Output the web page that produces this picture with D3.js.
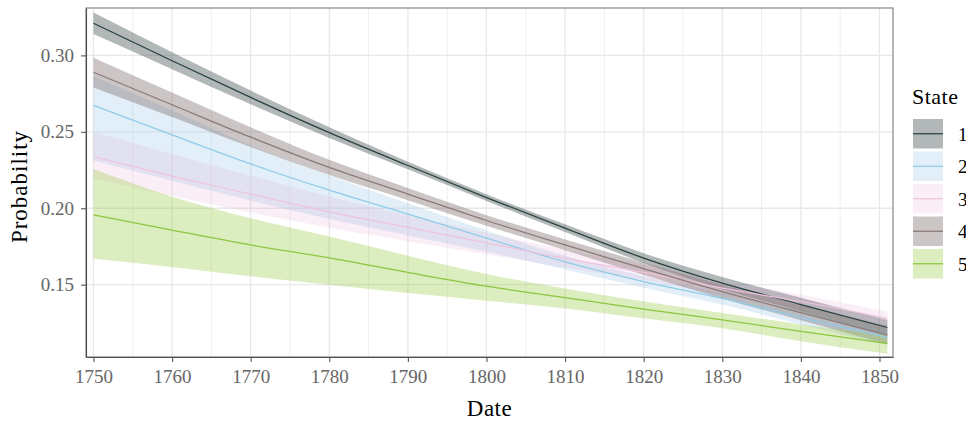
<!DOCTYPE html>
<html>
<head>
<meta charset="utf-8">
<script src="https://cdn.jsdelivr.net/npm/d3@7"></script>
<style>
  html, body { margin: 0; padding: 0; background: #fff; }
  svg text { font-family: "Liberation Serif", "DejaVu Serif", serif; }
</style>
</head>
<body>
<div id="chart"></div>
<script>
// Probabilidad por estado, 1750-1851
const years = [1750, 1760, 1770, 1780, 1790, 1800, 1810, 1820, 1830, 1840, 1851];
const stateNames = ['1', '2', '3', '4', '5'];
const stateLine = ['#27423f', '#90cbe9', '#efc2dd', '#8a7a79', '#8cc63f'];
const stateFill = ['#3b4d4b', '#9ecae9', '#e6a8d6', '#7f6f6d', '#9bcb4a'];
const fillAlpha = [0.4, 0.3, 0.2, 0.4, 0.35];

const state1Mean = [0.321, 0.2965, 0.2725, 0.2495, 0.228, 0.207, 0.187, 0.1674, 0.151, 0.137, 0.122];
const state1Low  = [0.314, 0.291, 0.268, 0.246, 0.2255, 0.2048, 0.1845, 0.1642, 0.147, 0.1325, 0.117];
const state1High = [0.328, 0.302, 0.277, 0.253, 0.2305, 0.2092, 0.1895, 0.1706, 0.155, 0.1415, 0.127];

const state2Mean = [0.2673, 0.248, 0.229, 0.2119, 0.1962, 0.1805, 0.1649, 0.152, 0.141, 0.1285, 0.1155];
const state2Low  = [0.2313, 0.218, 0.205, 0.1929, 0.1822, 0.1715, 0.1599, 0.148, 0.137, 0.124, 0.1105];
const state2High = [0.2863, 0.264, 0.241, 0.2214, 0.2032, 0.1855, 0.1689, 0.1555, 0.1445, 0.1325, 0.12];

const state3Mean = [0.2337, 0.221, 0.2093, 0.1977, 0.1875, 0.1774, 0.1672, 0.158, 0.1478, 0.139, 0.128];
const state3Low  = [0.2196, 0.208, 0.1973, 0.1872, 0.1785, 0.1699, 0.1612, 0.153, 0.1433, 0.1345, 0.1235];
const state3High = [0.25, 0.2355, 0.2213, 0.2077, 0.1955, 0.1839, 0.1727, 0.163, 0.1523, 0.1435, 0.1325];

const state4Mean = [0.289, 0.2677, 0.2465, 0.2267, 0.2093, 0.192, 0.176, 0.1605, 0.1455, 0.1317, 0.117];
const state4Low  = [0.279, 0.2597, 0.24, 0.2217, 0.2053, 0.1885, 0.1725, 0.1565, 0.141, 0.1267, 0.111];
const state4High = [0.2985, 0.2757, 0.253, 0.2317, 0.2133, 0.1955, 0.1795, 0.1645, 0.15, 0.1367, 0.123];

const state5Mean = [0.1957, 0.1857, 0.176, 0.1675, 0.158, 0.149, 0.1415, 0.134, 0.127, 0.1195, 0.1116];
const state5Low  = [0.167, 0.1616, 0.1555, 0.15, 0.1445, 0.1395, 0.1345, 0.128, 0.1215, 0.113, 0.1048];
const state5High = [0.2256, 0.2075, 0.1935, 0.1815, 0.169, 0.157, 0.1475, 0.139, 0.1315, 0.124, 0.117];

const xTicks = [1750, 1760, 1770, 1780, 1790, 1800, 1810, 1820, 1830, 1840, 1850];
const xMinor = [1755, 1765, 1775, 1785, 1795, 1805, 1815, 1825, 1835, 1845];
const yTicks = [0.15, 0.20, 0.25, 0.30];

const means = [state1Mean, state2Mean, state3Mean, state4Mean, state5Mean];
const lows = [state1Low, state2Low, state3Low, state4Low, state5Low];
const highs = [state1High, state2High, state3High, state4High, state5High];

const width = 966, height = 421;
const margin = { top: 8, right: 73, bottom: 64, left: 86 };

const svg = d3.select('#chart').append('svg')
  .attr('width', width).attr('height', height);

const x = d3.scaleLinear().domain([1749.05, 1851.72]).range([margin.left, width - margin.right]);
const y = d3.scaleLinear().domain([0.1027, 0.331]).range([height - margin.bottom, margin.top]);

const series = stateNames.map((name, i) => ({
  name,
  line: stateLine[i],
  fill: stateFill[i],
  alpha: fillAlpha[i],
  pts: years.map((yr, j) => ({ yr, m: means[i][j], lo: lows[i][j], hi: highs[i][j] }))
}));

// rejilla
const grid = svg.append('g');
grid.selectAll('line.minor').data(xMinor).join('line')
  .attr('x1', d => x(d)).attr('x2', d => x(d))
  .attr('y1', margin.top).attr('y2', height - margin.bottom)
  .attr('stroke', '#ebebeb').attr('stroke-width', 0.8);
grid.selectAll('line.vmaj').data(xTicks).join('line')
  .attr('x1', d => x(d)).attr('x2', d => x(d))
  .attr('y1', margin.top).attr('y2', height - margin.bottom)
  .attr('stroke', '#e8e8e8').attr('stroke-width', 1.3);
grid.selectAll('line.hmaj').data(yTicks).join('line')
  .attr('x1', margin.left).attr('x2', width - margin.right)
  .attr('y1', d => y(d)).attr('y2', d => y(d))
  .attr('stroke', '#e8e8e8').attr('stroke-width', 1.3);

const area = d3.area().x(d => x(d.yr)).y0(d => y(d.lo)).y1(d => y(d.hi)).curve(d3.curveMonotoneX);
const line = d3.line().x(d => x(d.yr)).y(d => y(d.m)).curve(d3.curveMonotoneX);

svg.append('g').selectAll('path').data(series).join('path')
  .attr('d', d => area(d.pts))
  .attr('fill', d => d.fill).attr('fill-opacity', d => d.alpha);

svg.append('g').selectAll('path').data(series).join('path')
  .attr('d', d => line(d.pts))
  .attr('fill', 'none').attr('stroke', d => d.line).attr('stroke-width', 1.25);

// marco del panel
svg.append('rect')
  .attr('x', margin.left).attr('y', margin.top)
  .attr('width', width - margin.left - margin.right)
  .attr('height', height - margin.top - margin.bottom)
  .attr('fill', 'none').attr('stroke', '#7a7a7a').attr('stroke-width', 1.1);

// ejes
const xAxis = svg.append('g')
  .attr('transform', `translate(0,${height - margin.bottom})`)
  .call(d3.axisBottom(x).tickValues(xTicks).tickFormat(d3.format('d'))
    .tickSize(5).tickSizeOuter(0).tickPadding(8));
const yAxis = svg.append('g')
  .attr('transform', `translate(${margin.left},0)`)
  .call(d3.axisLeft(y).tickValues(yTicks).tickFormat(d3.format('.2f'))
    .tickSize(5).tickSizeOuter(0).tickPadding(7));

[xAxis, yAxis].forEach(ax => {
  ax.select('.domain').attr('stroke', '#4d4d4d').attr('stroke-width', 1.1);
  ax.selectAll('.tick line').attr('stroke', '#555').attr('stroke-width', 1.1);
  ax.selectAll('.tick text').attr('fill', '#666').attr('font-size', 19)
    .style('font-family', '"Liberation Serif", "DejaVu Serif", serif');
});

svg.append('text')
  .attr('x', (margin.left + width - margin.right) / 2).attr('y', 416)
  .attr('text-anchor', 'middle').attr('font-size', 23).attr('letter-spacing', 0.5)
  .text('Date');

svg.append('text')
  .attr('transform', `translate(26.5,${(margin.top + height - margin.bottom) / 2 + 4}) rotate(-90)`)
  .attr('text-anchor', 'middle').attr('font-size', 23).attr('letter-spacing', 1)
  .text('Probability');

// leyenda
const legend = svg.append('g').attr('transform', 'translate(913,119)');
legend.append('text').attr('x', -1).attr('y', -15).attr('font-size', 22).attr('letter-spacing', 0.5).text('State');
const keys = legend.selectAll('g.key').data(series).join('g')
  .attr('transform', (d, i) => `translate(0,${i * 32.5})`);
keys.append('rect').attr('width', 30).attr('height', 29.5)
  .attr('fill', d => d.fill).attr('fill-opacity', d => d.alpha);
keys.append('line').attr('x1', 0).attr('x2', 30).attr('y1', 14.75).attr('y2', 14.75)
  .attr('stroke', d => d.line).attr('stroke-width', 1.25);
keys.append('text').attr('x', 45).attr('y', 21.5).attr('font-size', 19).text(d => d.name);
</script>
</body>
</html>
